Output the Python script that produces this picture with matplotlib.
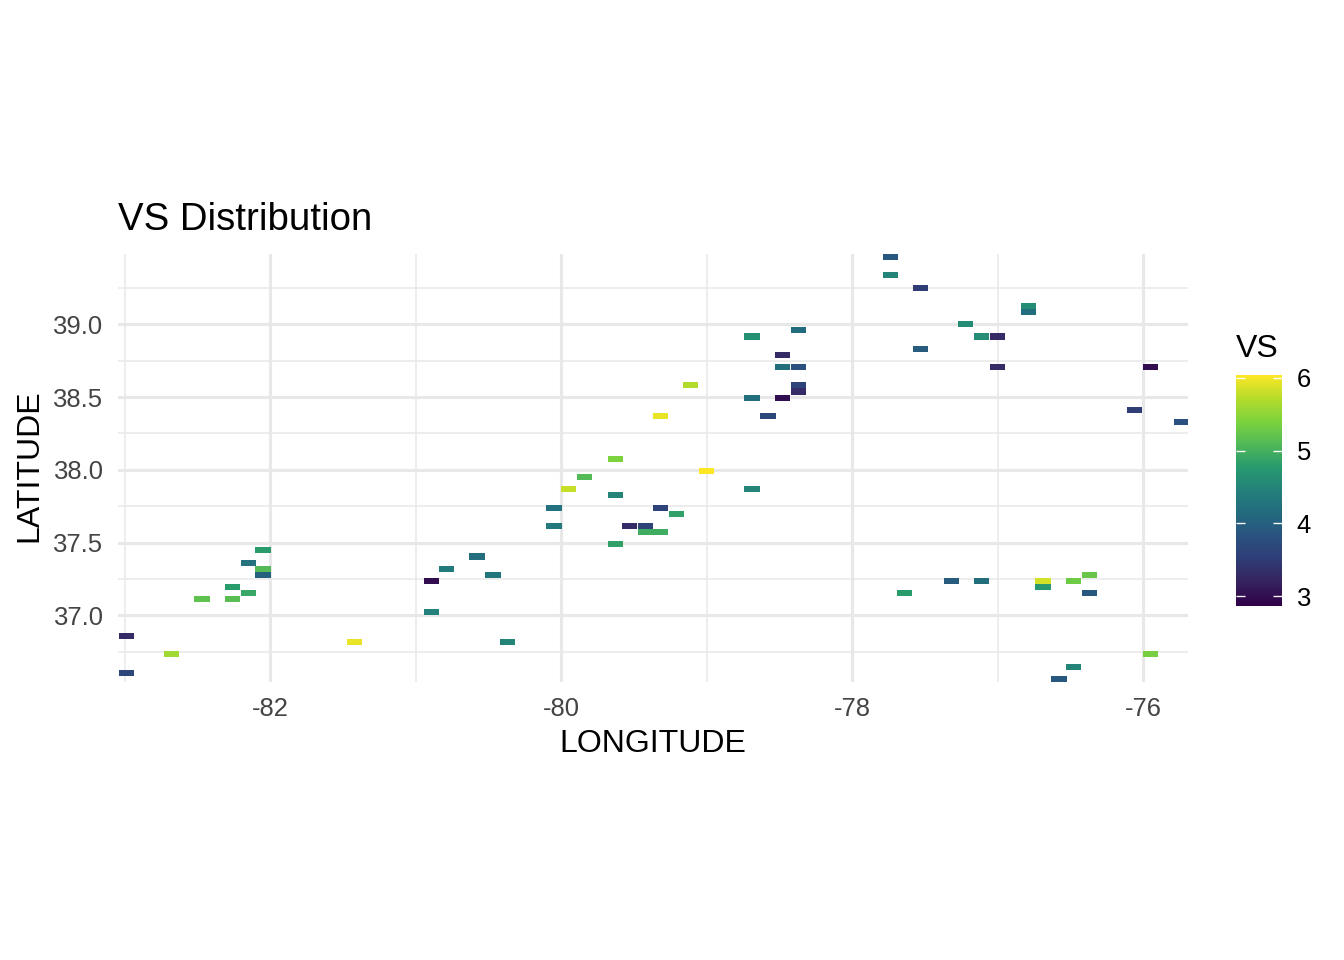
import matplotlib
matplotlib.use("Agg")
import matplotlib.pyplot as plt
from matplotlib.cm import ScalarMappable
from matplotlib.colors import LinearSegmentedColormap, Normalize

plt.rcParams['font.family'] = ['Liberation Sans', 'DejaVu Sans']

longitude = [
    -77.74, -77.74, -77.53, -76.79, -76.79, -77.22, -77.11, -77.00, -77.53, -77.00,
    -75.95, -76.06, -75.74, -78.37, -78.69, -78.48, -78.48, -78.37, -79.11, -78.37,
    -78.37, -78.69, -78.48, -78.58, -79.32, -79.63, -79.00, -79.84, -79.95, -78.69,
    -79.63, -80.05, -79.32, -79.21, -80.05, -79.53, -79.42, -79.42, -79.32, -79.63,
    -82.05, -82.15, -82.05, -82.05, -82.26, -82.15, -82.47, -82.26, -82.99, -82.68,
    -82.99, -81.42, -80.58, -80.79, -80.47, -80.89, -80.89, -80.37, -77.64, -77.32,
    -77.11, -76.69, -76.69, -76.48, -76.37, -76.37, -75.95, -76.48, -76.58,
]
latitude = [
    39.462, 39.336, 39.252, 39.126, 39.084, 39.000, 38.916, 38.916, 38.832, 38.706,
    38.706, 38.412, 38.328, 38.958, 38.916, 38.790, 38.706, 38.706, 38.580, 38.580,
    38.538, 38.496, 38.496, 38.370, 38.370, 38.076, 37.992, 37.950, 37.866, 37.866,
    37.824, 37.740, 37.740, 37.698, 37.614, 37.614, 37.614, 37.572, 37.572, 37.488,
    37.446, 37.362, 37.320, 37.278, 37.194, 37.152, 37.110, 37.110, 36.858, 36.732,
    36.606, 36.816, 37.404, 37.320, 37.278, 37.236, 37.026, 36.816, 37.152, 37.236,
    37.236, 37.236, 37.194, 37.236, 37.278, 37.152, 36.732, 36.648, 36.564,
]
vs = [
    3.9, 4.5, 3.5, 4.6, 4.2, 4.6, 4.6, 3.3, 3.95, 3.3,
    3.0, 3.5, 3.8, 4.15, 4.65, 3.3, 4.2, 3.8, 5.7, 3.6,
    3.3, 4.2, 3.0, 3.65, 5.95, 5.4, 6.05, 5.1, 5.8, 4.5,
    4.5, 4.25, 3.6, 4.85, 4.35, 3.3, 3.6, 4.95, 4.95, 4.85,
    4.8, 4.25, 5.1, 4.0, 4.8, 4.9, 5.2, 5.15, 3.3, 5.6,
    3.65, 5.95, 4.2, 4.4, 4.3, 3.0, 4.45, 4.5, 4.8, 3.95,
    4.2, 5.85, 4.75, 5.3, 5.25, 3.9, 5.35, 4.5, 3.9,
]

x_major = [-82, -80, -78, -76]
x_minor = [-83, -81, -79, -77]
y_major = [37.0, 37.5, 38.0, 38.5, 39.0]
y_minor = [36.75, 37.25, 37.75, 38.25, 38.75, 39.25]
legend_ticks = [3, 4, 5, 6]

# viridis as it looks in the reference, a bit darker and duller than matplotlib's
fill_colors = ['#2F0047', '#36225F', '#2F3C76', '#2A5280', '#236A7E', '#23807A',
               '#279A6E', '#50B858', '#7CD33D', '#B5DC2B', '#FDE725']

W, H = 1344, 960
fig = plt.figure(figsize=(7, 5), dpi=192)
ax = fig.add_axes([118 / W, 1 - 682 / H, 1070 / W, 428 / H])

norm = Normalize(2.867, 6.04)
cmap = LinearSegmentedColormap.from_list('vs_fill', fill_colors)
tile_w = 0.10506
tile_h = 0.042

ax.bar(longitude, tile_h, width=tile_w, bottom=[y - tile_h / 2 for y in latitude],
       color=cmap(norm(vs)), linewidth=0, antialiased=False, zorder=3)

ax.set_xlim(-83.047, -75.693)
ax.set_ylim(36.542, 39.483)
ax.set_xticks(x_major)
ax.set_xticks(x_minor, minor=True)
ax.set_yticks(y_major)
ax.set_yticks(y_minor, minor=True)
ax.set_xticklabels(['-82', '-80', '-78', '-76'])
ax.set_yticklabels(['37.0', '37.5', '38.0', '38.5', '39.0'])
ax.grid(which='major', color='#E8E8E8', linewidth=1.16)
ax.grid(which='minor', color='#E8E8E8', linewidth=0.58)
ax.set_axisbelow(True)
ax.tick_params(which='both', length=0, labelsize=9.6, labelcolor='#444444')
ax.tick_params(axis='x', pad=5.6)
ax.tick_params(axis='y', pad=5.4)
for s in ax.spines.values():
    s.set_visible(False)

fig.text(118 / W, 1 - 230 / H, 'VS Distribution', fontsize=14.4, color='black',
         ha='left', va='baseline')
fig.text(653 / W, 1 - 744 / H, 'LONGITUDE', fontsize=12, ha='center', va='center')
fig.text(29 / W, 1 - 466 / H, 'LATITUDE', fontsize=12, rotation=90, ha='center', va='center')
fig.text(1236 / W, 1 - 349 / H, 'VS', fontsize=12, ha='left', va='center')

cax = fig.add_axes([1236 / W, 1 - 605.7 / H, 46 / W, 230.7 / H])
cb = fig.colorbar(ScalarMappable(norm=norm, cmap=cmap), cax=cax)
cb.outline.set_visible(False)
cb.set_ticks(legend_ticks)
cb.ax.tick_params(length=0, labelsize=9.6, labelcolor='black', pad=5.5)
trans = cax.get_yaxis_transform()
cax.hlines(legend_ticks, 0, 0.2, colors='white', linewidth=0.5, transform=trans)
cax.hlines(legend_ticks, 0.8, 1, colors='white', linewidth=0.5, transform=trans)

fig.savefig('out.png', dpi=192)
